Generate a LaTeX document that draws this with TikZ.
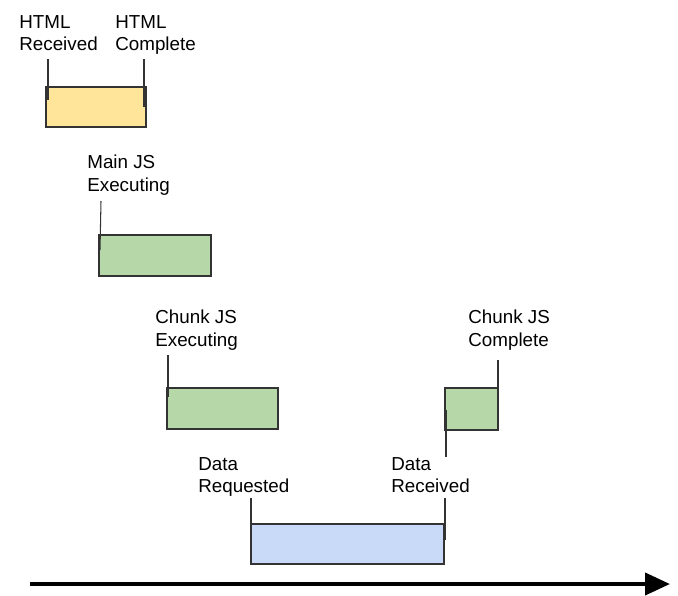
\documentclass[tikz,border=0pt]{standalone}
\usepackage{fontspec}
\setmainfont{Liberation Sans}
\usetikzlibrary{arrows.meta}

\definecolor{htmlfill}{HTML}{FFE599}
\definecolor{jsfill}{HTML}{B6D7A8}
\definecolor{datafill}{HTML}{C9DAF8}
\tikzset{
  lbl/.style={anchor=north west,inner sep=0pt,align=left,font=\fontsize{10.7pt}{12.8pt}\selectfont},
  bar/.style={draw=black!80,line width=0.6pt},
  tick/.style={draw=black!80,line width=0.6pt}
}

\begin{document}
\begin{tikzpicture}[x=0.02cm,y=-0.02cm]
\useasboundingbox (0,0) rectangle (678,595);
% bars
\draw[bar,fill=htmlfill] (46,87) rectangle (146,127);
\draw[bar,fill=jsfill] (99,235) rectangle (211,276);
\draw[bar,fill=jsfill] (167,388) rectangle (278,429);
\draw[bar,fill=jsfill] (445,388) rectangle (498,430);
\draw[bar,fill=datafill] (251,524) rectangle (444,564);
% labels
\node[lbl] (htmlrec) at (19,15) {HTML\\Received};
\node[lbl] (htmlcomp) at (115,15) {HTML\\Complete};
\node[lbl] (mainexec) at (87,155) {Main JS\\Executing};
\node[lbl] (chunkexec) at (155,310) {Chunk JS\\Executing};
\node[lbl] (chunkcomp) at (468,310) {Chunk JS\\Complete};
\node[lbl] (datareq) at (198,457) {Data\\Requested};
\node[lbl] (datarec) at (391,457) {Data\\Received};
% markers
\coordinate (a1) at (48,100);
\coordinate (a2) at (144,107);
\coordinate (a3) at (100,250);
\coordinate (a4) at (168,397);
\coordinate (a5) at (498,388);
\coordinate (a6) at (251,547);
\coordinate (a7) at (445,540);
\draw[tick] (48,59) -- (a1);
\draw[tick] (144,59) -- (a2);
\draw[tick] (101,201) -- (a3);
\draw[tick] (168,355) -- (a4);
\draw[tick] (498,360) -- (a5);
\draw[tick] (446,410) -- (446,457);
\draw[tick] (251,498) -- (a6);
\draw[tick] (445,498) -- (a7);
% time axis
\coordinate (t0) at (30,584);
\coordinate (t1) at (670,584);
\draw[line width=2.3pt,-{Triangle[length=0.5cm,width=0.44cm]}] (t0) -- (t1);
\end{tikzpicture}
\end{document}
